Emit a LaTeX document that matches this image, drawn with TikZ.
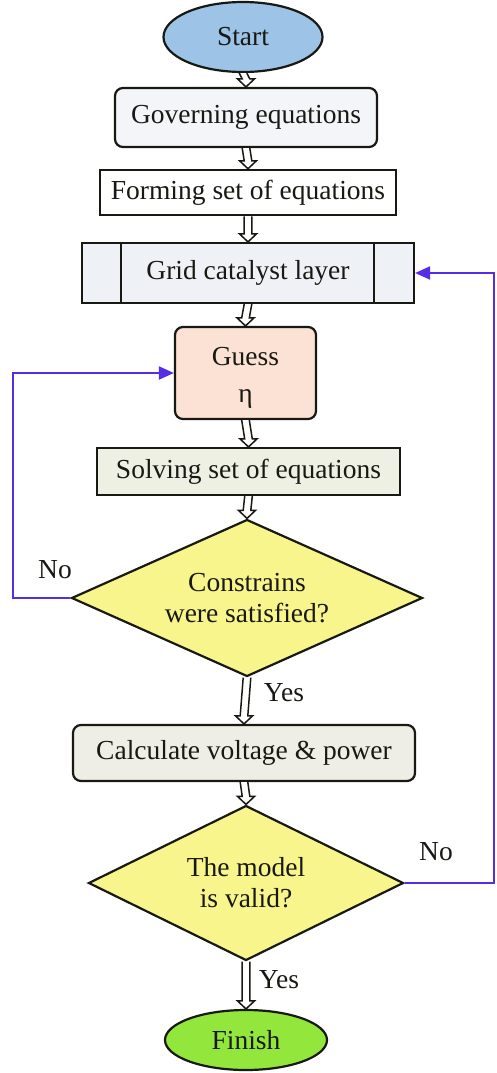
\documentclass[tikz,border=0pt]{standalone}
\usepackage{fontspec}
\setmainfont{Liberation Serif}
\usetikzlibrary{shapes.geometric,calc,arrows.meta}
\definecolor{startblue}{RGB}{157,195,230}
\definecolor{govfill}{RGB}{243,245,248}
\definecolor{gridfill}{RGB}{238,242,247}
\definecolor{guessfill}{RGB}{251,226,213}
\definecolor{solvefill}{RGB}{238,240,227}
\definecolor{calcfill}{RGB}{238,238,230}
\definecolor{diafill}{RGB}{248,245,140}
\definecolor{finishfill}{RGB}{146,230,60}
\definecolor{loopblue}{RGB}{85,45,230}
\definecolor{ink}{RGB}{25,25,20}
\tikzset{
  box/.style={draw=ink, line width=2.2pt, inner sep=0pt, align=center, text=ink},
  rbox/.style={box, rounded corners=8pt},
  oval/.style={box, ellipse},
  dia/.style={box, diamond},
  lbl/.style={text=ink, inner sep=0pt},
  hollow/.style={draw=ink, fill=white, line width=1.5pt, line join=miter,
    to path={($(\tikztostart)+(-3.8,0)$) -- ($(\tikztotarget)+(-3.8,-8)$)
      -- ($(\tikztotarget)+(-8.5,-8)$) -- (\tikztotarget) -- ($(\tikztotarget)+(8.5,-8)$)
      -- ($(\tikztotarget)+(3.8,-8)$) -- ($(\tikztostart)+(3.8,0)$)}},
  loopline/.style={draw=loopblue, line width=2pt, -{Triangle[length=15pt,width=13pt]}}
}
\begin{document}
\begin{tikzpicture}[x=1pt,y=-1pt,font=\fontsize{27.5}{31}\selectfont]
\useasboundingbox (0,0) rectangle (496,1073);
\fill[white] (0,0) rectangle (496,1073);
\node[oval, fill=startblue, minimum width=159pt, minimum height=70pt] (start) at (243,37) {Start};
\node[rbox, fill=govfill, minimum width=262pt, minimum height=59pt] (gov) at (246,117.5) {Governing equations};
\node[box, fill=white, minimum width=296pt, minimum height=45pt, line width=2.5pt] (form) at (248,192.5) {Forming set of equations};
\node[box, fill=gridfill, minimum width=332pt, minimum height=60pt] (grid) at (248,273) {Grid catalyst layer};
\draw[draw=ink, line width=2.2pt] ($(grid.north west)+(40,0)$) -- ($(grid.south west)+(40,0)$);
\draw[draw=ink, line width=2.2pt] ($(grid.north east)+(-41,0)$) -- ($(grid.south east)+(-41,0)$);
\node[rbox, fill=guessfill, minimum width=141pt, minimum height=92pt] (guess) at (245.5,373) {\rule{0pt}{28pt}Guess\\[6pt]η};
\node[box, fill=solvefill, minimum width=303pt, minimum height=47pt] (solve) at (248.5,471.5) {Solving set of equations};
\node[dia, fill=diafill, shape aspect=2.236, minimum width=351pt, minimum height=157pt] (d1) at (247,598) {Constrains\\were satisfied?};
\node[rbox, fill=calcfill, minimum width=342pt, minimum height=56pt] (calc) at (244,753) {Calculate voltage \& power};
\node[dia, fill=diafill, shape aspect=2.03, minimum width=315pt, minimum height=155pt] (d2) at (246,883) {The model\\is valid?};
\node[oval, fill=finishfill, minimum width=162pt, minimum height=60pt] (finish) at (246,1040) {Finish};

\draw[hollow] (start.south) to (gov.north);
\draw[hollow] (gov.south) to (form.north);
\draw[hollow] (form.south) to (grid.north);
\draw[hollow] (grid.south) to (guess.north);
\draw[hollow] (guess.south) to (solve.north);
\draw[hollow] (solve.south) to (d1.north);
\draw[hollow] (d1.south) to (calc.north);
\draw[hollow] (calc.south) to (d2.north);
\draw[hollow] (d2.south) to (finish.north);

\draw[loopline] (d1.west) -- ++(-57,0) |- (guess.west);
\draw[loopline] (d2.east) -- ++(89,0) |- (grid.east);

\node[lbl] (no1) at (55,570) {No};
\node[lbl] (yes1) at (284,693) {Yes};
\node[lbl] (no2) at (436,852) {No};
\node[lbl] (yes2) at (279,980) {Yes};
\end{tikzpicture}
\end{document}
